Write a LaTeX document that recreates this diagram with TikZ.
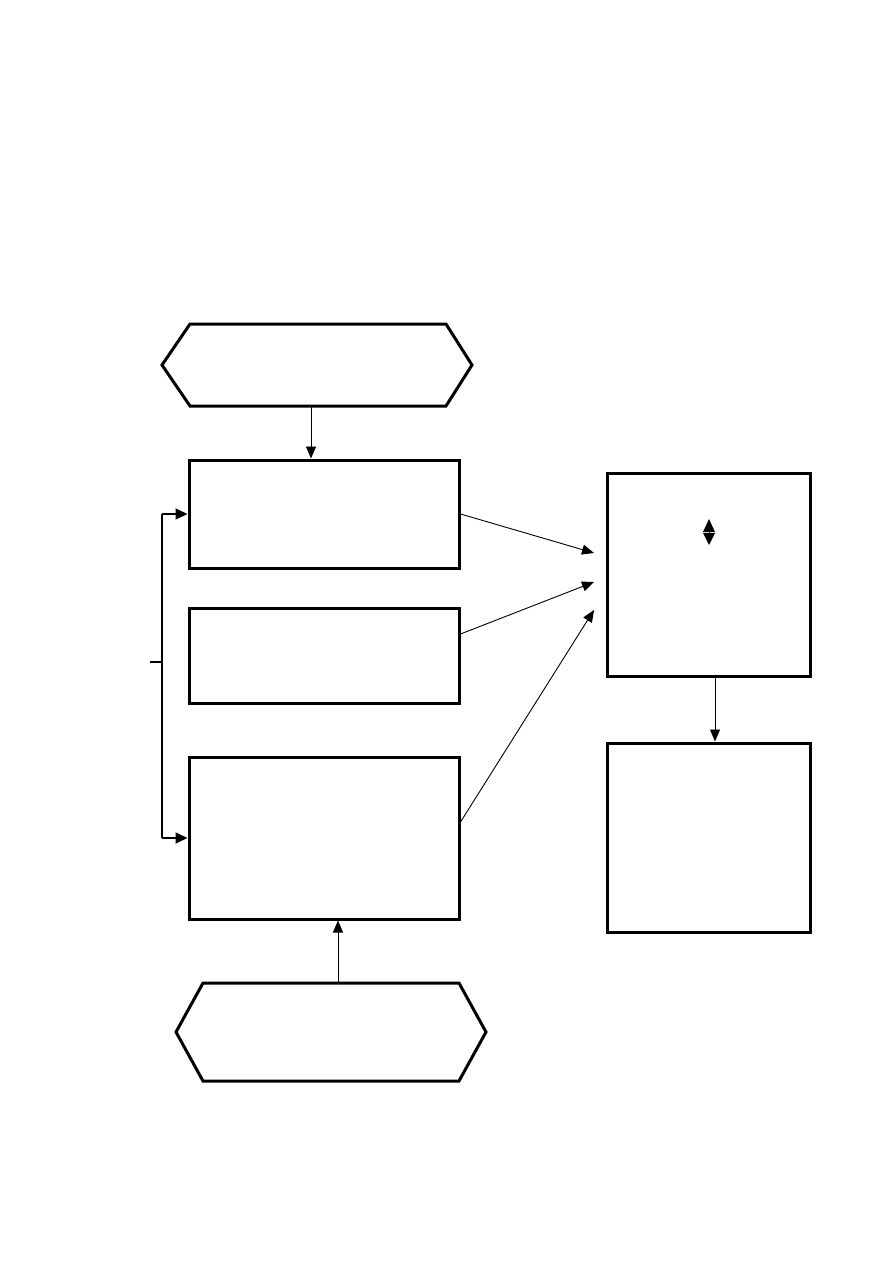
\documentclass[tikz,border=0pt]{standalone}
\usetikzlibrary{arrows.meta}
\begin{document}
\begin{tikzpicture}[x=1pt,y=-1pt,
  boxstyle/.style={draw,line width=3pt,inner sep=0pt},
  hexstyle/.style={draw,line width=3pt,line join=miter},
  conn/.style={line width=0.9pt,-{Triangle[length=12pt,width=10pt]}},
  brk/.style={line width=1.6pt}]
\useasboundingbox (0,0) rectangle (893,1263);
% boxes
\node[boxstyle,minimum width=270pt,minimum height=108pt] (A) at (324,514) {};
\node[boxstyle,minimum width=270pt,minimum height=95pt] (B) at (324,655.5) {};
\node[boxstyle,minimum width=270pt,minimum height=162pt] (C) at (324,838) {};
\node[boxstyle,minimum width=203pt,minimum height=203pt] (R1) at (708.5,574.5) {};
\node[boxstyle,minimum width=203pt,minimum height=189pt] (R2) at (708.5,837.5) {};
% hexagons
\draw[hexstyle] (162,365) -- (190,324) -- (446,324) -- (472,365) -- (446,406) -- (190,406) -- cycle;
\node[inner sep=0pt,minimum width=310pt,minimum height=82pt] (T) at (317,365) {};
\draw[hexstyle] (176,1032) -- (203,983) -- (459,983) -- (486,1032) -- (459,1081) -- (203,1081) -- cycle;
\node[inner sep=0pt,minimum width=310pt,minimum height=98pt] (BH) at (331,1032) {};
% vertical connectors
\draw[conn] (T.south -| 311,0) -- (A.north -| 311,0);
\draw[conn] (BH.north -| 338,0) -- (C.south -| 338,0);
\draw[conn] (R1.south -| 715,0) -- (R2.north -| 715,0);
% bracket on left
\coordinate (bt) at (162,514);
\coordinate (bb) at (162,838);
\coordinate (tick) at (150,662);
\draw[brk] (bt) -- (bb);
\draw[brk] (tick) -- (162,662);
\draw[brk,-{Triangle[length=12pt,width=11pt]}] (bt) -- (A.west |- bt);
\draw[brk,-{Triangle[length=12pt,width=11pt]}] (bb) -- (C.west |- bb);
% arrows to right box
\coordinate (p1) at (594,553);
\coordinate (p2) at (594,582);
\coordinate (p3) at (594,610);
\draw[conn] (A.east |- 0,514) -- (p1);
\draw[conn] (B.east |- 0,634) -- (p2);
\draw[conn] (C.east |- 0,822) -- (p3);
% small double arrow in R1
\fill (703,532) -- (709,519) -- (715,532) -- cycle;
\fill (703,533) -- (709,545) -- (715,533) -- cycle;
\draw[line width=0.8pt] (709,526) -- (709,540);
\end{tikzpicture}
\end{document}
